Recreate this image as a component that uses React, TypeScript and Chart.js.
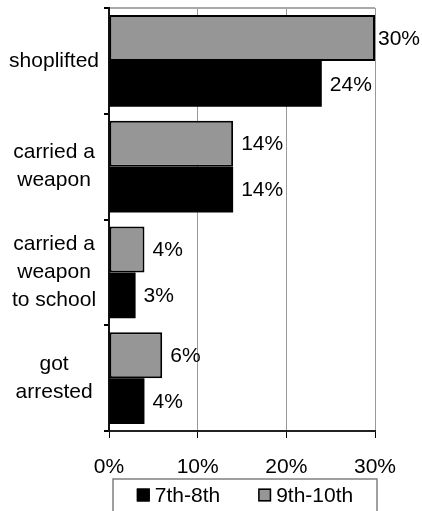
import React, { useEffect, useRef } from "react";
import { Chart, registerables } from "chart.js";

Chart.register(...registerables);

const categories: string[][] = [
  ["shoplifted"],
  ["carried a", "weapon"],
  ["carried a", "weapon", "to school"],
  ["got", "arrested"],
];
const grade9to10: number[] = [30, 14, 4, 6];
const grade7to8: number[] = [24, 14, 3, 4];
const seriesLabels = { g78: "7th-8th", g910: "9th-10th" };
const xMin = 0;
const xMax = 30;
const xStep = 10;

const FONT = '"Liberation Sans", Arial, sans-serif';
const FS = 21;
const GREY = "#969696";

const valueLabels = {
  id: "valueLabels",
  afterDatasetsDraw(chart: any) {
    const ctx = chart.ctx;
    ctx.save();
    ctx.font = `${FS}px ${FONT}`;
    ctx.fillStyle = "#000";
    ctx.textBaseline = "middle";
    ctx.textAlign = "left";
    chart.data.datasets.forEach((ds: any, i: number) => {
      const meta = chart.getDatasetMeta(i);
      meta.data.forEach((el: any, j: number) => {
        const t = ds.data[j] + "%";
        const w = ctx.measureText(t).width;
        let x = el.x + 8;
        if (x + w > chart.width - 2) x = chart.width - 2 - w;
        ctx.fillText(t, x, el.y + 1);
      });
    });
    ctx.restore();
  },
};

const boxLegend = {
  id: "boxLegend",
  afterDraw(chart: any) {
    const ctx = chart.ctx;
    const area = chart.chartArea;
    const left = area.left + 4;
    const right = area.right + 2;
    const top = area.bottom + 48;
    ctx.save();
    ctx.strokeStyle = "#808080";
    ctx.lineWidth = 1.5;
    ctx.strokeRect(left, top, right - left, 40);
    ctx.font = `${FS}px ${FONT}`;
    ctx.textBaseline = "middle";
    ctx.textAlign = "left";
    const items = [...chart.data.datasets].reverse();
    const box = 13;
    const gapText = 5;
    const gapItem = 38;
    const widths = items.map((d: any) => box + gapText + ctx.measureText(d.label).width);
    const total = widths.reduce((a: number, b: number) => a + b, 0) + gapItem * (items.length - 1);
    let x = (left + right) / 2 - total / 2;
    const cy = top + 16;
    items.forEach((d: any, i: number) => {
      ctx.fillStyle = d.backgroundColor;
      ctx.fillRect(x, cy - box / 2, box, box);
      ctx.strokeStyle = "#000";
      ctx.lineWidth = 1.5;
      ctx.strokeRect(x + 0.75, cy - box / 2 + 0.75, box - 1.5, box - 1.5);
      ctx.fillStyle = "#000";
      ctx.fillText(d.label, x + box + gapText, cy + 1);
      x += widths[i] + gapItem;
    });
    ctx.restore();
  },
};

export default function App() {
  const ref = useRef<HTMLCanvasElement | null>(null);
  useEffect(() => {
    if (!ref.current) return;
    const chart = new Chart(ref.current, {
      type: "bar",
      data: {
        labels: categories as any,
        datasets: [
          {
            label: seriesLabels.g910,
            data: grade9to10,
            backgroundColor: GREY,
            borderColor: "#000",
            borderWidth: 2,
            borderSkipped: false,
          },
          {
            label: seriesLabels.g78,
            data: grade7to8,
            backgroundColor: "#000",
            borderWidth: 0,
          },
        ],
      },
      options: {
        indexAxis: "y",
        animation: false,
        responsive: true,
        maintainAspectRatio: false,
        layout: { padding: { top: 8, right: 47, bottom: 30, left: 0 } },
        datasets: { bar: { categoryPercentage: 0.868, barPercentage: 1.0 } },
        plugins: { legend: { display: false }, tooltip: { enabled: false } },
        scales: {
          x: {
            min: xMin,
            max: xMax,
            ticks: {
              stepSize: xStep,
              callback: (v: any) => v + "%",
              font: { size: FS, family: FONT, lineHeight: 1.2 },
              color: "#000",
              padding: 17,
              maxRotation: 0,
            },
            grid: {
              color: (c: any) => (c.tick && c.tick.value === 0 ? "rgba(0,0,0,0)" : "#999999"),
              tickColor: "#000",
              tickLength: 7,
              lineWidth: 1,
            },
            border: { color: "#222", width: 2 },
            afterFit: (s: any) => {
              s.height = 50;
              s.paddingLeft = 0;
              s.paddingRight = 0;
            },
          },
          y: {
            ticks: {
              font: { size: FS, family: FONT, lineHeight: 1.33 },
              color: "#000",
              crossAlign: "center",
              padding: 5,
            },
            grid: {
              offset: true,
              color: (c: any) => (c.index === 0 ? "#aaaaaa" : "rgba(0,0,0,0)"),
              tickColor: "#000",
              tickLength: 5,
              lineWidth: 2,
            },
            border: { color: "#111", width: 2 },
            afterFit: (s: any) => {
              s.width = 109;
              s.paddingTop = 0;
              s.paddingBottom = 0;
            },
          },
        },
      },
      plugins: [valueLabels, boxLegend],
    });
    return () => chart.destroy();
  }, []);
  return (
    <div style={{ position: "absolute", left: 0, top: 0, width: 422, height: 511, background: "#fff" }}>
      <canvas ref={ref} />
    </div>
  );
}
